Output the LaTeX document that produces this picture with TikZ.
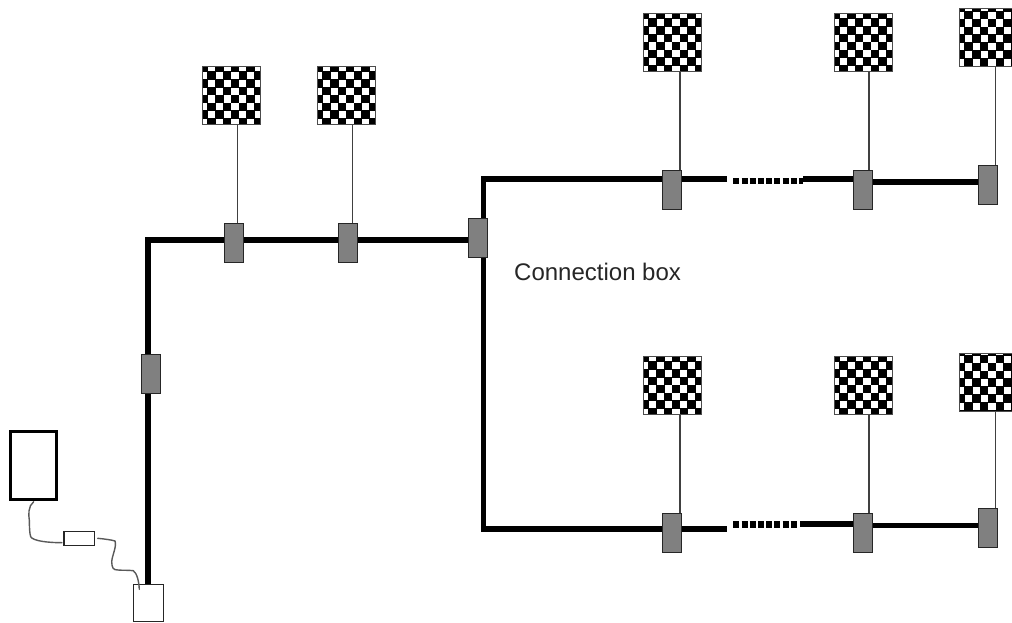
\documentclass[tikz,border=0pt]{standalone}
\usepackage{fontspec}
\setmainfont{Liberation Sans}
\definecolor{boxgray}{RGB}{128,128,128}
\newcommand{\checks}[1]{%
  \foreach \i in {-1,...,8}{\foreach \j in {-1,...,8}{%
    \pgfmathparse{int(mod(\i+\j+20,2))}%
    \ifnum\pgfmathresult=0
      \fill[black] ([xshift=\i*7.85pt-3.2pt,yshift=-\j*7.85pt+#1]path picture bounding box.north west) rectangle ++(8.6pt,-8.6pt);
    \fi}}%
}
\tikzset{
  x=1pt,y=-1pt,
  board/.style={rectangle,draw=black!70,line width=1pt,minimum size=58pt,inner sep=0pt,anchor=north west,path picture={\checks{#1}}},
  board/.default=3.2pt,
  conn/.style={rectangle,draw=black!85,fill=boxgray,line width=1.1pt,minimum width=19pt,minimum height=38.8pt,inner sep=0pt},
  bus/.style={line width=5.7pt,black,line join=miter},
  dots/.style={line width=6.2pt,black,dash pattern=on 6pt off 2.2pt},
  stem/.style={line width=1.4pt,black!75},
  wire/.style={line width=1.4pt,black!65,line cap=round},
  whitebox/.style={rectangle,draw=black!85,line width=1.1pt,inner sep=0pt,fill=white},
}
\begin{document}
\begin{tikzpicture}
\useasboundingbox (0,0) rectangle (1012,623);
\begin{scope}
\clip (0,0) rectangle (1012,623);
% boards
\node[board] (b1) at (202,66) {};
\node[board] (b2) at (317,66) {};
\node[board] (b3) at (643,13) {};
\node[board] (b4) at (834,13) {};
\node[board=6pt] (b5) at (959,8.5) {};
\node[board] (b6) at (643,356) {};
\node[board] (b7) at (834,356) {};
\node[board=6pt] (b8) at (959,352.5) {};
% corners and free ends
\coordinate (pb) at (148.3,600);
\coordinate (c1) at (148.3,240);
\coordinate (c2) at (483.5,179);
\coordinate (c3) at (483.5,529);
\coordinate (e1) at (727,179);
\coordinate (d1) at (733.3,181);
\coordinate (d2) at (803,181);
\coordinate (e2) at (803,179);
\coordinate (e3) at (727,529);
\coordinate (d3) at (733.3,524.5);
\coordinate (d4) at (798,524.5);
\coordinate (e4) at (800,524);
\coordinate (n1) at (234,242.7);
\coordinate (n2) at (348,242.7);
\coordinate (n3) at (478,238);
\coordinate (n4) at (151,374);
\coordinate (n5) at (672,189.7);
\coordinate (n6) at (862.7,189.7);
\coordinate (n7) at (988,184.7);
\coordinate (n8) at (672,532.7);
\coordinate (n9) at (862.7,532.7);
\coordinate (n10) at (988,527.7);
\coordinate (h1) at (478,240);
\coordinate (h2) at (862.7,182.3);
\coordinate (h3) at (988,182.3);
\coordinate (h4) at (862.7,525.5);
\coordinate (h5) at (988,525.5);
% buses
\draw[bus] (pb) -- (c1) -- (h1);
\draw[bus] (e1) -- (c2) -- (c3) -- (e3);
\draw[dots] (d1) -- (d2);
\draw[dots] (d3) -- (d4);
\draw[bus] (e2) -- (e2 -| n6);
\draw[bus] (h2) -- (h3);
\draw[bus] (e4) -- (e4 -| n9);
\draw[bus] (h4) -- (h5);
% connection boxes
\node[conn] (k1) at (n1) {};
\node[conn] (k2) at (n2) {};
\node[conn] (k3) at (n3) {};
\node[conn] (k4) at (n4) {};
\node[conn] (k5) at (n5) {};
\node[conn] (k6) at (n6) {};
\node[conn] (k7) at (n7) {};
\node[conn] (k8) at (n8) {};
\node[conn] (k9) at (n9) {};
\node[conn] (k10) at (n10) {};
% stems
\draw[stem] (237.5,0 |- b1.south) -- (237.5,0 |- k1.north);
\draw[stem] (352.5,0 |- b2.south) -- (352.5,0 |- k2.north);
\draw[stem] (680,0 |- b3.south) -- (680,0 |- k5.north);
\draw[stem] (869,0 |- b4.south) -- (869,0 |- k6.north);
\draw[stem] (995.7,0 |- b5.south) -- (995.7,0 |- k7.north);
\draw[stem] (680,0 |- b6.south) -- (680,0 |- k8.north);
\draw[stem] (869,0 |- b7.south) -- (869,0 |- k9.north);
\draw[stem] (995.7,0 |- b8.south) -- (995.7,0 |- k10.north);
\end{scope}
% control unit, inline box and plug
\node[rectangle,draw=black,line width=2.8pt,minimum width=46pt,minimum height=68pt,inner sep=0pt,fill=white] (ctl) at (33.6,465.5) {};
\node[whitebox,minimum width=30.5pt,minimum height=14pt] (fuse) at (79.2,538.5) {};
\node[whitebox,minimum width=30pt,minimum height=37.5pt] (plug) at (148.2,603) {};
% cables
\coordinate (w1) at (33.7,501.7);
\coordinate (w2) at (62,542.7);
\coordinate (w3) at (97.7,538.3);
\coordinate (w4) at (139.3,589.3);
\draw[wire] (w1) .. controls (28,506) and (28.5,515) .. (29.3,520) .. controls (29.5,528) and (29.5,533) .. (30.7,536.7) .. controls (33,541) and (48,542.7) .. (w2);
\draw[wire] (w3) .. controls (105,539) and (112,540) .. (115,541) .. controls (117,546) and (112,556) .. (111.7,561.7) .. controls (112,568) and (113,570) .. (118,570) .. controls (123,570.5) and (128,570) .. (133.3,570.7) .. controls (137,573) and (139,582) .. (w4);
\node[anchor=base west,font=\fontsize{24pt}{28pt}\selectfont,text=black!85,inner sep=0pt] (lab) at (514,280) {Connection box};
\end{tikzpicture}
\end{document}
